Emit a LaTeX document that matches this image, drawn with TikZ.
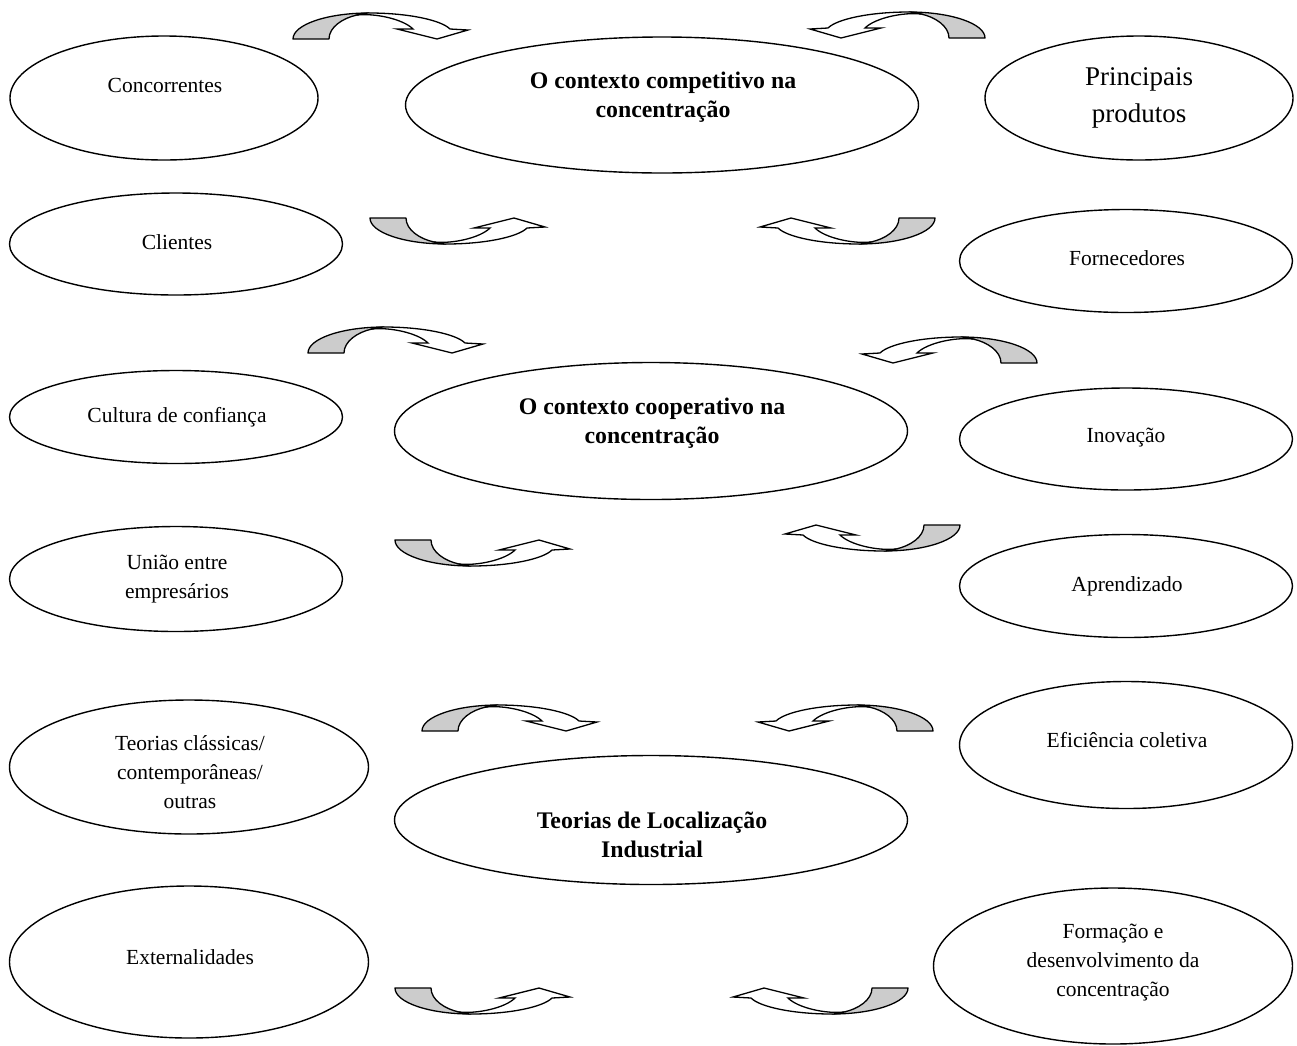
\documentclass[tikz,border=0pt]{standalone}
\usepackage{fontspec}
\setmainfont{Liberation Serif}
\usetikzlibrary{shapes.geometric}
\begin{document}
\begin{tikzpicture}[x=1pt,y=-1pt,
  oval/.style={draw=black,line width=1.4pt,ellipse,inner sep=0pt},
  lbl/.style={align=center,font=\fontsize{21.5}{29}\selectfont},
  ttl/.style={align=center,font=\fontsize{23.8}{29.5}\selectfont\bfseries},
  arrgray/.style={fill=black!20,draw=black,line width=1.3pt,line join=round},
  arrwhite/.style={fill=white,draw=black,line width=1.3pt,line join=miter}]
\useasboundingbox (0,0) rectangle (1297,1045);
% ellipses
\node[oval,minimum width=308,minimum height=124] (e1) at (164,98) {};
\node[oval,minimum width=513,minimum height=136] (e2) at (662,105) {};
\node[oval,minimum width=308,minimum height=124] (e3) at (1139,98) {};
\node[oval,minimum width=333,minimum height=102] (e4) at (176,244) {};
\node[oval,minimum width=333,minimum height=103] (e5) at (1126,261) {};
\node[oval,minimum width=333,minimum height=93] (e6) at (176,417) {};
\node[oval,minimum width=513,minimum height=137] (e7) at (651,431) {};
\node[oval,minimum width=333,minimum height=102] (e8) at (1126,439) {};
\node[oval,minimum width=333,minimum height=105] (e9) at (176,579) {};
\node[oval,minimum width=333,minimum height=103] (e10) at (1126,586) {};
\node[oval,minimum width=359,minimum height=134] (e11) at (189,767) {};
\node[oval,minimum width=333,minimum height=127] (e12) at (1126,745) {};
\node[oval,minimum width=513,minimum height=129] (e13) at (651,820) {};
\node[oval,minimum width=359,minimum height=152] (e14) at (189,962) {};
\node[oval,minimum width=359,minimum height=156] (e15) at (1113,966) {};
% texts
\node[lbl] (t1) at (165,85) {Concorrentes};
\node[ttl] (t2) at (663,97) {O contexto competitivo na\\concentração};
\node[lbl,font=\fontsize{27}{37}\selectfont] (t3) at (1139,98) {Principais\\produtos};
\node[lbl] (t4) at (177,242) {Clientes};
\node[lbl] (t5) at (1127,258) {Fornecedores};
\node[lbl] (t6) at (177,417) {Cultura de confiança};
\node[ttl] (t7) at (652,423) {O contexto cooperativo na\\concentração};
\node[lbl] (t8) at (1126,438) {Inovação};
\node[lbl] (t9) at (177,579) {União entre\\empresários};
\node[lbl] (t10) at (1127,586) {Aprendizado};
\node[lbl] (t11) at (190,772) {Teorias clássicas/\\contemporâneas/\\outras};
\node[lbl] (t12) at (1127,740) {Eficiência coletiva};
\node[ttl] (t13) at (652,835) {Teorias de Localização\\Industrial};
\node[lbl] (t14) at (190,957) {Externalidades};
\node[lbl] (t15) at (1113,963) {Formação e\\desenvolvimento da\\concentração};
% curved arrows
\foreach \px/\py/\sx/\sy in {293/13/1/1, 985/12/-1/1, 370/244/1/-1, 935/244/-1/-1,
  308/327/1/1, 1037/337/-1/1, 395/566/1/-1, 960/551/-1/-1,
  422/705/1/1, 933/705/-1/1, 395/1014/1/-1, 908/1014/-1/-1}{
  \begin{scope}[shift={(\px,\py)},xscale=\sx,yscale=\sy]
    \path[arrgray] (0,26) .. controls (0,11.6) and (34,0) .. (76,0)
      .. controls (72,0.6) and (68,1) .. (64,2)
      .. controls (50,5) and (36,14) .. (36,26) -- cycle;
    \path[arrwhite] (64,2) .. controls (68,1) and (72,0) .. (76,0)
      .. controls (115,0) and (148,7) .. (157,16) -- (175,17) -- (144,26)
      -- (104,16) -- (120,16) .. controls (110,6) and (82,0) .. (64,2) -- cycle;
  \end{scope}
}
\end{tikzpicture}
\end{document}
